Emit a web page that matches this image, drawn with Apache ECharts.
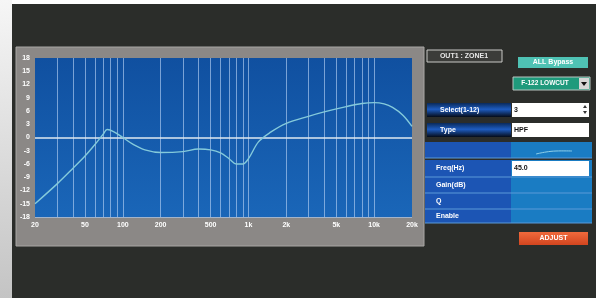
<!DOCTYPE html>
<html>
<head>
<meta charset="utf-8">
<script src="https://cdn.jsdelivr.net/npm/echarts@6/dist/echarts.min.js"></script>
<style>
  html, body { margin: 0; padding: 0; background: #ffffff; }
  #eq { width: 600px; height: 298px; }
</style>
</head>
<body>
<div id="eq"></div>
<script>
// response curve (Hz / dB)
var freqs = [20, 30, 40, 50, 60, 70, 75, 85, 100, 120, 150, 200, 300, 400, 500, 600, 700, 800, 900, 1000, 1200, 1500, 2000, 3000, 4000, 6000, 8000, 10000, 12000, 14000, 17000, 20000]
var gains = [-15, -10.5, -7, -4.2, -1.6, 0.8, 1.8, 1.3, 0, -1.5, -2.8, -3.4, -3.2, -2.6, -2.8, -3.5, -4.8, -6, -6, -4.8, -1, 1.2, 3.2, 4.8, 5.8, 7, 7.7, 7.9, 7.6, 6.8, 5, 2.5]

var xLabelValues = [20, 50, 100, 200, 500, 1000, 2000, 5000, 10000, 20000]
var xLabelTexts = ['20', '50', '100', '200', '500', '1k', '2k', '5k', '10k', '20k']
var gridFreqs = [30, 40, 50, 60, 70, 80, 90, 100, 200, 300, 400, 500, 600, 700, 800, 900, 1000, 2000, 3000, 4000, 5000, 6000, 7000, 8000, 9000, 10000]

var rowLabels = ['Select(1-12)', 'Type', '', 'Freq(Hz)', 'Gain(dB)', 'Q', 'Enable']
var rowValues = ['3', 'HPF', '', '45.0', '', '', '']

var chart = echarts.init(document.getElementById('eq'))

var FONT = '"Liberation Sans", Arial, sans-serif'

function txt(x, y, s, size, color, align) {
  return {
    type: 'text', x: x, y: y, z: 20,
    style: { text: s, fill: color || '#fff', font: 'bold ' + (size || 7) + 'px ' + FONT, align: align || 'left', verticalAlign: 'middle' }
  }
}

var graphics = [
  // page + dark panel
  { type: 'rect', z: -10, shape: { x: 0, y: 0, width: 600, height: 298 }, style: { fill: '#ffffff' } },
  { type: 'rect', z: -9, shape: { x: 0, y: 0, width: 12, height: 298 },
    style: { fill: new echarts.graphic.LinearGradient(0, 0, 1, 1, [{ offset: 0, color: '#f6f6f6' }, { offset: 1, color: '#c4c4c4' }]) } },
  { type: 'rect', z: -8, shape: { x: 12, y: 4, width: 584, height: 294 }, style: { fill: '#2b2d2a' } },
  // grey frame round the plot
  { type: 'rect', z: -5, shape: { x: 16, y: 47, width: 408, height: 199 }, style: { fill: '#8b8886', stroke: '#a9a7a4', lineWidth: 1 } },

  // buttons top right
  { type: 'rect', z: 10, shape: { x: 427, y: 50, width: 75, height: 12 }, style: { fill: '#3b3c39', stroke: '#c9c9c6', lineWidth: 1 } },
  txt(464, 56, 'OUT1 : ZONE1', 7, '#e8e8e8', 'center'),
  { type: 'rect', z: 10, shape: { x: 518, y: 57, width: 70, height: 11 }, style: { fill: '#4fc2b4' } },
  txt(553, 62.5, 'ALL Bypass', 7, '#ffffff', 'center'),
  { type: 'rect', z: 10, shape: { x: 513, y: 77, width: 77, height: 13 }, style: { fill: '#1f9a7c', stroke: '#b9c5c0', lineWidth: 1 } },
  txt(545, 83.5, 'F-122 LOWCUT', 6.5, '#ffffff', 'center'),
  { type: 'rect', z: 11, shape: { x: 579, y: 78, width: 10, height: 11 }, style: { fill: '#d6d6d6' } },
  { type: 'polygon', z: 12, shape: { points: [[581, 82], [587, 82], [584, 86]] }, style: { fill: '#111' } },

  // adjust button
  { type: 'rect', z: 10, shape: { x: 519, y: 232, width: 69, height: 13 },
    style: { fill: new echarts.graphic.LinearGradient(0, 0, 0, 1, [{ offset: 0, color: '#f06a3c' }, { offset: 1, color: '#d2451f' }]) } },
  txt(553.5, 238.5, 'ADJUST', 7, '#ffffff', 'center')
]

// parameter rows
var rowTops = [103, 123, 142, 160, 177, 193, 209]
var rowHeights = [14, 14, 16, 17, 16, 16, 14]
rowLabels.forEach(function (label, i) {
  var y = rowTops[i], h = rowHeights[i]
  if (i < 2) {
    graphics.push({ type: 'rect', z: 10, shape: { x: 427, y: y, width: 84, height: h },
      style: { fill: new echarts.graphic.LinearGradient(0, 0, 0, 1, [
        { offset: 0, color: '#0a2a5a' }, { offset: 0.45, color: '#1e5cc0' }, { offset: 1, color: '#050b18' }]) } })
    graphics.push({ type: 'rect', z: 10, shape: { x: 512, y: y, width: 77, height: h }, style: { fill: '#ffffff' } })
  } else {
    graphics.push({ type: 'rect', z: 9, shape: { x: 425, y: y, width: 86, height: h }, style: { fill: '#1c55b4' } })
    graphics.push({ type: 'rect', z: 9, shape: { x: 511, y: y, width: 81, height: h }, style: { fill: '#1a7cc3' } })
    graphics.push({ type: 'line', z: 11, shape: { x1: 425, y1: y + h, x2: 592, y2: y + h }, style: { stroke: '#5a9ad8', lineWidth: 1 } })
    if (rowValues[i] !== '') {
      graphics.push({ type: 'rect', z: 10, shape: { x: 512, y: y + 1, width: 77, height: h - 2 }, style: { fill: '#ffffff' } })
    }
  }
  if (label) graphics.push(txt(i < 2 ? 440 : 436, y + h / 2, label, 7, '#ffffff'))
  if (rowValues[i]) graphics.push(txt(514, y + h / 2, rowValues[i], 7, '#111111'))
})
// spinner on select box + small curve icon
graphics.push({ type: 'polygon', z: 12, shape: { points: [[583, 108], [587, 108], [585, 105]] }, style: { fill: '#333' } })
graphics.push({ type: 'polygon', z: 12, shape: { points: [[583, 111], [587, 111], [585, 114]] }, style: { fill: '#333' } })
graphics.push({ type: 'polyline', z: 12, shape: { points: [[536, 154], [546, 152], [556, 151], [572, 151]], smooth: 0.4 }, style: { stroke: '#8fd0ea', lineWidth: 1, fill: null } })

var option = {
  animation: false,
  graphic: graphics,
  grid: {
    left: 35, right: 188, top: 58, bottom: 81,
    show: true, borderWidth: 0, z: 2,
    backgroundColor: new echarts.graphic.LinearGradient(0, 0, 0, 1, [{ offset: 0, color: '#1050a0' }, { offset: 1, color: '#1a66b8' }])
  },
  xAxis: {
    type: 'log', logBase: 10, min: 20, max: 20000,
    axisLine: { show: false }, axisTick: { show: false }, splitLine: { show: false },
    axisLabel: {
      customValues: xLabelValues, margin: 5, color: '#ffffff', fontSize: 7, fontWeight: 'bold', fontFamily: FONT,
      formatter: function (v) {
        var k = xLabelValues.indexOf(Math.round(v))
        return k >= 0 ? xLabelTexts[k] : ''
      }
    }
  },
  yAxis: {
    type: 'value', min: -18, max: 18, interval: 3,
    axisLine: { show: false }, axisTick: { show: false },
    axisLabel: { margin: 5, color: '#ffffff', fontSize: 7, fontWeight: 'bold', fontFamily: FONT },
    splitLine: { show: true, lineStyle: { color: 'rgba(175,205,240,0.65)', width: 1 } }
  },
  series: [{
    type: 'line', z: 5,
    data: freqs.map(function (f, i) { return [f, gains[i]] }),
    smooth: 0.35, showSymbol: false,
    lineStyle: { color: '#84cadb', width: 1.4 },
    markLine: {
      silent: true, symbol: 'none', label: { show: false },
      lineStyle: { color: 'rgba(185,212,245,0.62)', width: 1, type: 'solid' },
      data: gridFreqs.map(function (f) { return { xAxis: f } }).concat([
        { yAxis: 0, lineStyle: { color: '#dfe8f0', width: 1.6, type: 'solid' } }
      ])
    }
  }]
}

chart.setOption(option)
</script>
</body>
</html>
